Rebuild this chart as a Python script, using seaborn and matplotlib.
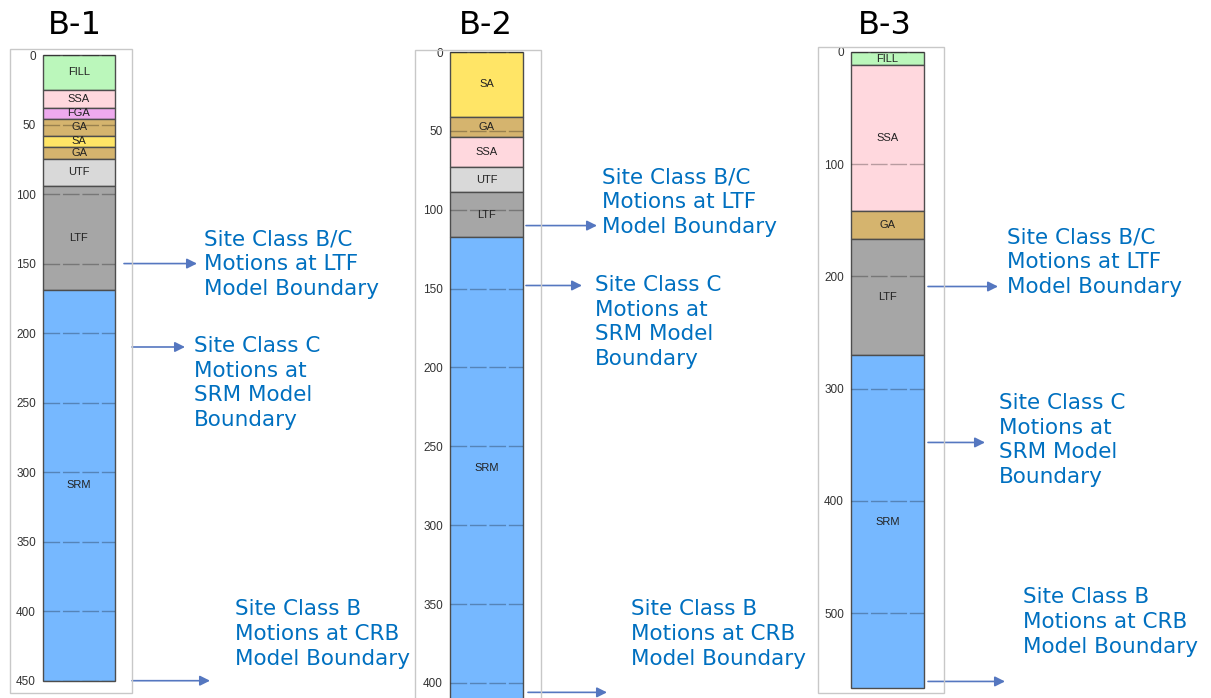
import matplotlib
matplotlib.use("Agg")
import matplotlib.pyplot as plt
import matplotlib.transforms as mtransforms
from matplotlib.patches import Rectangle
import seaborn as sns

# figure size in pixels (dpi 100)
W, H = 1211, 698

soil_colors = {
    "FILL": "#bbf7bb",
    "SSA": "#ffd8de",
    "FGA": "#eeaaee",
    "GA": "#d5b46e",
    "SA": "#ffe566",
    "UTF": "#d9d9d9",
    "LTF": "#a6a6a6",
    "SRM": "#76b8ff",
}

# boring logs: layer names and layer boundaries (depth, ft)
b1_layers = ["FILL", "SSA", "FGA", "GA", "SA", "GA", "UTF", "LTF", "SRM"]
b1_depths = [0, 25, 38, 46, 58, 66, 75, 94, 169, 450]
b1_ticks = [0, 50, 100, 150, 200, 250, 300, 350, 400, 450]

b2_layers = ["SA", "GA", "SSA", "UTF", "LTF", "SRM"]
b2_depths = [0, 41, 54, 73, 89, 117, 410]
b2_ticks = [0, 50, 100, 150, 200, 250, 300, 350, 400]

b3_layers = ["FILL", "SSA", "GA", "LTF", "SRM"]
b3_depths = [0, 12, 142, 167, 270, 567]
b3_ticks = [0, 100, 200, 300, 400, 500]

# arrow depths for the motion callouts
b1_arrow_depths = [150, 210, 450]
b2_arrow_depths = [110, 148, 406]
b3_arrow_depths = [209, 348, 561]

callout_texts = [
    "Site Class B/C\nMotions at LTF\nModel Boundary",
    "Site Class C\nMotions at\nSRM Model\nBoundary",
    "Site Class B\nMotions at CRB\nModel Boundary",
]

sns.set_style("white")
plt.rcParams["font.family"] = ["DejaVu Sans"]

fig = plt.figure(figsize=(W / 100, H / 100), dpi=100)


def px_rect(left, top, right, bottom):
    return [left / W, 1 - bottom / H, (right - left) / W, (bottom - top) / H]


def draw_log(ax, layers, depths, ticks):
    for i, name in enumerate(layers):
        top, bot = depths[i], depths[i + 1]
        ax.bar(0, bot - top, bottom=top, width=1, color=soil_colors[name],
               edgecolor="#4d4d4d", linewidth=1, zorder=1, clip_on=False)
        ax.text(0, (top + bot) / 2, name, ha="center", va="center",
                fontsize=8, family="Liberation Sans", color="#222222", zorder=3)
    ax.set_xlim(-0.5, 0.5)
    ax.set_ylim(depths[-1], 0)
    ax.set_xticks([])
    ax.set_yticks(ticks)
    ax.tick_params(axis="y", length=0, pad=5, labelsize=8.5, labelcolor="#333333")
    for lab in ax.get_yticklabels():
        lab.set_family("Liberation Sans")
    ax.yaxis.grid(True, color="black", alpha=0.28, linestyle=(0, (12, 2)), linewidth=1)
    ax.set_axisbelow(False)
    for sp in ax.spines.values():
        sp.set_visible(False)


def draw_callouts(ax, arrow_depths, arrow_x, text_pos):
    trans = mtransforms.blended_transform_factory(fig.transFigure, ax.transData)
    for d, (x0, x1) in zip(arrow_depths, arrow_x):
        ax.annotate("", xy=(x1 / W, d), xycoords=trans,
                    xytext=(x0 / W, d), textcoords=trans,
                    arrowprops=dict(arrowstyle="-|>", color="#5577c0", lw=1.2,
                                    shrinkA=0, shrinkB=0, mutation_scale=15),
                    annotation_clip=False)
    for txt, (tx, ty) in zip(callout_texts, text_pos):
        fig.text(tx / W, 1 - ty / H, txt, ha="left", va="center",
                 fontsize=15.5, color="#0070c0", linespacing=1.3)


# panel frames
for left, top, right, bottom in [(10, 49, 132, 693), (415, 50, 541, 720), (818, 47, 944, 693)]:
    fig.patches.append(Rectangle((left / W, 1 - bottom / H), (right - left) / W,
                                 (bottom - top) / H, transform=fig.transFigure,
                                 facecolor="none", edgecolor="#c8c8c8", lw=1))

ax1 = fig.add_axes(px_rect(43, 55, 115, 680.7))
draw_log(ax1, b1_layers, b1_depths, b1_ticks)
draw_callouts(ax1, b1_arrow_depths, [(124, 197), (132, 185), (132, 210)],
              [(204, 264), (194, 383), (235, 634)])

ax2 = fig.add_axes(px_rect(450, 52.1, 523, 52.1 + 410 * 1.577))
draw_log(ax2, b2_layers, b2_depths, b2_ticks)
draw_callouts(ax2, b2_arrow_depths, [(526, 597), (526, 582), (528, 607)],
              [(602, 202), (595, 322), (631, 634)])

ax3 = fig.add_axes(px_rect(851, 52, 924, 52 + 567 * 1.122))
draw_log(ax3, b3_layers, b3_depths, b3_ticks)
draw_callouts(ax3, b3_arrow_depths, [(928, 998), (928, 985), (928, 1005)],
              [(1007, 262), (999, 440), (1023, 622)])

for name, cx in [("B-1", 75), ("B-2", 486), ("B-3", 885)]:
    fig.text(cx / W, 1 - 25 / H, name, ha="center", va="center", fontsize=23, color="black")

fig.savefig("out.png", dpi=100)
